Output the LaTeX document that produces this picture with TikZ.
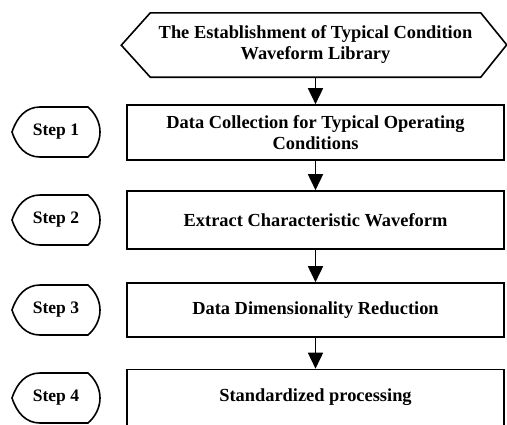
\documentclass[tikz,border=0pt]{standalone}
\usepackage{fontspec}
\setmainfont{Liberation Serif}
\usetikzlibrary{arrows.meta}
\begin{document}
\begin{tikzpicture}[x=1bp,y=-1bp,
  every node/.style={font=\bfseries\fontsize{18.4bp}{21bp}\selectfont, inner sep=0pt, align=center},
  procbox/.style={draw, line width=1.6bp, minimum width=377bp},
  stepnode/.style={font=\bfseries\fontsize{17.5bp}{20bp}\selectfont, minimum width=88bp, minimum height=50bp},
  stepline/.style={line width=1.6bp},
  flow/.style={line width=1.6bp, -{Triangle[width=15bp,length=16bp]}}
]
\useasboundingbox (0,0) rectangle (507,424);

% hexagon
\node[minimum width=330bp, minimum height=64bp] (hex) at (315.5,45) {The Establishment of Typical Condition\\Waveform Library};
\draw[line width=1.6bp, line join=miter] (hex.north west) -- (hex.north east) -- ++(26,32) -- (hex.south east) -- (hex.south west) -- ++(-29,-32) -- cycle;

% boxes
\node[procbox, minimum height=55bp] (b1) at (315.5,132.5) {Data Collection for Typical Operating\\Conditions};
\node[procbox, minimum height=58bp] (b2) at (315.5,220) {Extract Characteristic Waveform};
\node[procbox, minimum height=54bp] (b3) at (315.5,310) {Data Dimensionality Reduction};
\node[procbox, minimum height=56bp] (b4) at (315.5,397.5) {Standardized processing};

% steps
\node[stepnode] (s1) at (56,132) {Step 1};
\node[stepnode] (s2) at (56,220) {Step 2};
\node[stepnode] (s3) at (56,310) {Step 3};
\node[stepnode] (s4) at (56,398) {Step 4};
\foreach \s in {s1,s2,s3,s4}{
  \draw[stepline, shift={(\s.center)}] (-44,0) .. controls (-39,-15) and (-30,-25) .. (-16,-25) -- (32,-25)
    .. controls (39,-19) and (44,-10) .. (44,0) .. controls (44,10) and (39,19) .. (32,25)
    -- (-16,25) .. controls (-30,25) and (-39,15) .. cycle;
}

% arrows
\draw[flow] (hex.south) -- (b1.north);
\draw[flow] (b1.south) -- (b2.north);
\draw[flow] (b2.south) -- (b3.north);
\draw[flow] (b3.south) -- (b4.north);
\end{tikzpicture}
\end{document}
